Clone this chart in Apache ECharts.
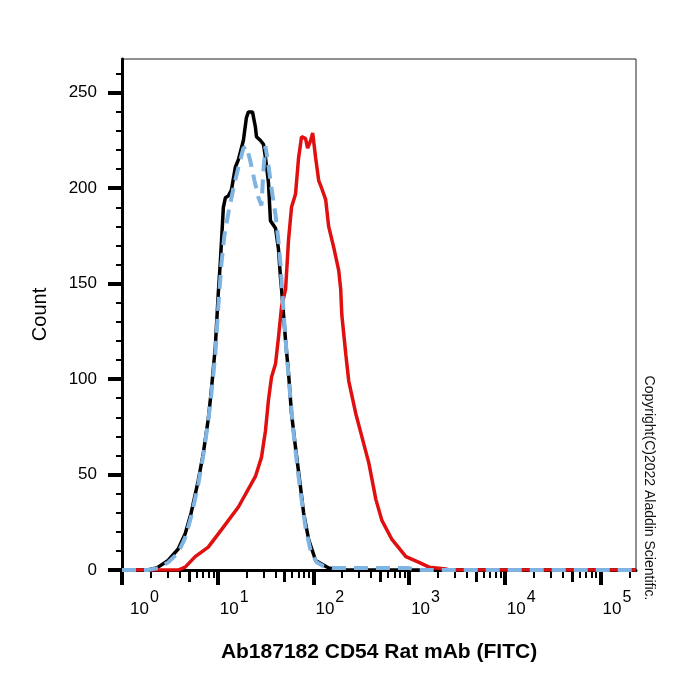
<!DOCTYPE html>
<html>
<head>
<meta charset="utf-8">
<script src="https://cdn.jsdelivr.net/npm/echarts@6/dist/echarts.min.js"></script>
<style>
html,body{margin:0;padding:0;background:#fff;}
#chart{width:700px;height:700px;}
</style>
</head>
<body>
<div id="chart"></div>
<script>
// x values are in decades (log10 of FITC intensity), y values are counts
const blackX = [0, 0.27, 0.346, 0.377, 0.482, 0.587, 0.66, 0.723, 0.797, 0.849, 0.901, 0.933, 0.975, 1.006, 1.027, 1.059, 1.08, 1.111, 1.143, 1.184, 1.216, 1.268, 1.3, 1.321, 1.363, 1.394, 1.405, 1.447, 1.478, 1.499, 1.53, 1.551, 1.562, 1.604, 1.635, 1.656, 1.667, 1.709, 1.74, 1.771, 1.813, 1.866, 1.897, 1.95, 2.023, 2.159, 2.296, 5.37];
const blackY = [0, 0, 1, 1.5, 5, 11, 19, 30, 47, 61, 79, 94, 117, 145, 161, 190, 195, 196, 199, 211, 215, 225, 237, 240, 240, 232, 227, 225, 223, 216, 203, 183, 182, 179, 168, 153, 147, 120, 103, 82, 64, 43, 30, 16, 5, 1, 0, 0];

const blueX = [0, 0.27, 0.377, 0.482, 0.587, 0.66, 0.723, 0.797, 0.849, 0.901, 0.933, 0.975, 1.006, 1.038, 1.069, 1.111, 1.164, 1.216, 1.268, 1.3, 1.342, 1.384, 1.426, 1.457, 1.478, 1.499, 1.53, 1.562, 1.604, 1.635, 1.656, 1.688, 1.719, 1.751, 1.792, 1.834, 1.876, 1.918, 1.971, 2.034, 2.107, 2.212, 2.474, 2.736, 2.998, 3.1, 5.37];
const blueY = [0, 0, 1, 4, 9, 17, 28, 45, 60, 78, 92, 113, 138, 160, 175, 187, 200, 211, 221, 222, 214, 204, 195, 191, 210, 222, 212, 200, 186, 172, 160, 135, 114, 95, 72, 53, 37, 22, 10, 4, 2, 1, 1, 1, 1, 0, 0];

const redX = [0, 0.587, 0.66, 0.765, 0.901, 1.038, 1.216, 1.394, 1.457, 1.499, 1.53, 1.562, 1.604, 1.635, 1.667, 1.709, 1.74, 1.771, 1.813, 1.845, 1.876, 1.918, 1.939, 1.971, 1.992, 2.023, 2.055, 2.086, 2.128, 2.159, 2.212, 2.264, 2.285, 2.296, 2.338, 2.369, 2.442, 2.505, 2.579, 2.652, 2.715, 2.82, 2.966, 3.103, 3.208, 3.386, 3.417, 5.37];
const redY = [0, 0, 1.5, 7, 12, 21, 33, 49, 59, 73, 89, 101, 108, 122, 138, 147, 173, 190, 197, 216, 227, 226, 221, 225, 229, 216, 204, 200, 194, 180, 169, 157, 147, 134, 113, 99, 82, 70, 56, 37, 26, 16, 7, 4, 1.5, 0.5, 0, 0];

const xDecades = [0, 1, 2, 3, 4, 5];
const yTicks = [0, 50, 100, 150, 200, 250];
const xTitle = 'Ab187182 CD54 Rat mAb (FITC)';
const yTitle = 'Count';
const copyright = 'Copyright(C)2022 Aladdin Scientific.';

const X_MAX = 5.37, Y_MAX = 267.7;

function pairs(xs, ys) { return xs.map((x, i) => [x, ys[i]]); }

const xMinor = [], xFives = [];
for (let d = 0; d <= 5; d++) {
  for (let k = 2; k <= 9; k++) {
    const v = d + Math.log10(k);
    if (v >= X_MAX) continue;
    if (k === 5) xFives.push(v); else xMinor.push(v);
  }
}
const yMinor = [];
for (let v = 10; v < Y_MAX; v += 10) if (v % 50 !== 0) yMinor.push(v);

const FONT = 'Liberation Sans, Arial, sans-serif';

function tickAxis(values, len, width) {
  return {
    type: 'value', min: 0, max: X_MAX, position: 'bottom',
    axisLine: {show: false, onZero: false},
    axisTick: {show: true, customValues: values, length: len, lineStyle: {color: '#000', width: width}},
    axisLabel: {show: false},
    splitLine: {show: false}
  };
}

const chart = echarts.init(document.getElementById('chart'), null, {renderer: 'canvas'});
chart.setOption({
  animation: false,
  backgroundColor: '#fff',
  grid: {left: 122, right: 64, top: 59, bottom: 130, show: true, borderColor: '#222', borderWidth: 1, backgroundColor: 'transparent'},
  xAxis: [{
    type: 'value', min: 0, max: X_MAX, position: 'bottom',
    name: xTitle, nameLocation: 'middle', nameGap: 72,
    nameTextStyle: {fontFamily: FONT, fontSize: 21, fontWeight: 'bold', color: '#000'},
    axisLine: {show: true, onZero: false, lineStyle: {color: '#000', width: 3}},
    axisTick: {show: true, customValues: xDecades, length: 15, lineStyle: {color: '#000', width: 4}},
    axisLabel: {
      show: true, customValues: xDecades, margin: 20, align: 'left',
      formatter: function (v) {
        const n = Math.round(v);
        return (n === 0 ? '{b0|10}' : '{b|10}') + '{s|' + n + '}';
      },
      rich: {
        b: {fontFamily: FONT, fontSize: 17, color: '#000', padding: [0, 1, 0, 2]},
        b0: {fontFamily: FONT, fontSize: 17, color: '#000', padding: [0, 1, 0, 8]},
        s: {fontFamily: FONT, fontSize: 16, color: '#000', padding: [0, 0, 22, 0]}
      }
    },
    splitLine: {show: false}
  }, tickAxis(xMinor, 8, 2), tickAxis(xFives, 12, 3)],
  yAxis: [{
    type: 'value', min: 0, max: Y_MAX, position: 'left',
    name: yTitle, nameLocation: 'middle', nameGap: 72,
    nameTextStyle: {fontFamily: FONT, fontSize: 20, color: '#000'},
    axisLine: {show: true, onZero: false, lineStyle: {color: '#000', width: 3}},
    axisTick: {show: true, customValues: yTicks, length: 14, lineStyle: {color: '#000', width: 4}},
    axisLabel: {show: true, customValues: yTicks, margin: 25, fontFamily: FONT, fontSize: 17, color: '#000'},
    splitLine: {show: false}
  }, {
    type: 'value', min: 0, max: Y_MAX, position: 'left',
    axisLine: {show: false, onZero: false},
    axisTick: {show: true, customValues: yMinor, length: 6, lineStyle: {color: '#000', width: 2}},
    axisLabel: {show: false},
    splitLine: {show: false}
  }],
  series: [{
    type: 'line', xAxisIndex: 0, yAxisIndex: 0, data: pairs(blackX, blackY),
    showSymbol: false, symbol: 'none', lineStyle: {color: '#000', width: 3.5}, z: 3
  }, {
    type: 'line', xAxisIndex: 0, yAxisIndex: 0, data: pairs(redX, redY),
    showSymbol: false, symbol: 'none', lineStyle: {color: '#e01010', width: 3.5}, z: 4
  }, {
    type: 'line', xAxisIndex: 0, yAxisIndex: 0, data: pairs(blueX, blueY),
    showSymbol: false, symbol: 'none', lineStyle: {color: '#7fb4e2', width: 4, type: [14, 8]}, z: 5
  }],
  graphic: [{
    type: 'text', x: 649, y: 488, rotation: -Math.PI / 2,
    style: {text: copyright, fontFamily: FONT, fontSize: 14, fill: '#111', align: 'center', verticalAlign: 'middle'}
  }]
});
</script>
</body>
</html>
